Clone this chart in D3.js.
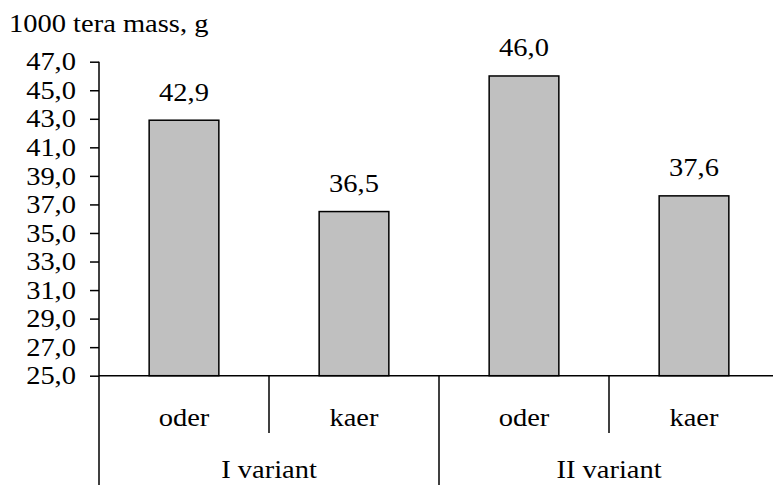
<!DOCTYPE html>
<html>
<head>
<meta charset="utf-8">
<script src="https://cdn.jsdelivr.net/npm/d3@7"></script>
<style>
  html, body { margin: 0; padding: 0; background: #fff; }
  svg { display: block; }
</style>
</head>
<body>
<svg id="chart" width="773" height="485"></svg>
<script>
// values
const groups = ["I variant", "II variant"];
const crops = ["oder", "kaer"];
const mass = [42.9, 36.5, 46.0, 37.6];
const yTicks = [25, 27, 29, 31, 33, 35, 37, 39, 41, 43, 45, 47];
const yTitle = "1000 tera mass, g";

const svg = d3.select("#chart");
const W = 773, H = 485;
const plotLeft = 99, plotRight = 779, plotTop = 61.7, plotBottom = 375.7;
const fontSize = 25;
const stretch = 1.14; // source text is a bit wider than plain Times

const fmt = v => d3.format(".1f")(v).replace(".", ",");

// flat list of bars: group x crop
const cats = [];
groups.forEach((g, gi) => crops.forEach((c, ci) => cats.push({ g, c, key: g + "|" + c, v: mass[gi * crops.length + ci] })));

const x = d3.scaleBand().domain(cats.map(d => d.key)).range([plotLeft, plotRight]).paddingInner(0.59).paddingOuter(0.295);
const xCat = d3.scaleBand().domain(cats.map(d => d.key)).range([plotLeft, plotRight]).padding(0);
const xGroup = d3.scaleBand().domain(groups).range([plotLeft, plotRight]).padding(0);
const y = d3.scaleLinear().domain([25, 47]).range([plotBottom, plotTop]);

function label(sel, tx, ty, str, anchor) {
  return sel.append("text")
    .attr("transform", `translate(${tx},${ty}) scale(${stretch},1)`)
    .attr("text-anchor", anchor || "middle")
    .attr("font-size", fontSize)
    .style("font-family", "'Liberation Serif'")
    .attr("fill", "#000")
    .text(str);
}

// y title
label(svg, 9, 31.5, yTitle, "start");

// y axis
const yAxis = d3.axisLeft(y).tickValues(yTicks).tickSize(9).tickFormat(fmt);
const gy = svg.append("g").attr("transform", `translate(${plotLeft},0)`).call(yAxis);
gy.select(".domain").remove();
gy.selectAll(".tick line").attr("stroke", "#000").attr("stroke-width", 1.5);
gy.selectAll(".tick text").remove();
yTicks.forEach(t => label(svg, 76, y(t) + 8.7, fmt(t), "end"));

// bars
svg.append("g").selectAll("rect").data(cats).join("rect")
  .attr("x", d => x(d.key))
  .attr("y", d => y(d.v))
  .attr("width", x.bandwidth())
  .attr("height", d => y(25) - y(d.v))
  .attr("fill", "#c0c0c0")
  .attr("stroke", "#000")
  .attr("stroke-width", 1.5);

// value labels
cats.forEach(d => label(svg, x(d.key) + x.bandwidth() / 2, y(d.v) - 19.5, fmt(d.v)));

// axes lines
const ax = svg.append("g").attr("stroke", "#000").attr("stroke-width", 1.5);
ax.append("line").attr("x1", plotLeft).attr("x2", plotLeft).attr("y1", plotTop).attr("y2", H);
ax.append("line").attr("x1", plotLeft).attr("x2", W).attr("y1", plotBottom).attr("y2", plotBottom);

// category separators (within group)
groups.forEach(g => {
  crops.slice(1).forEach(c => {
    const k = g + "|" + c;
    ax.append("line").attr("x1", xCat(k)).attr("x2", xCat(k)).attr("y1", plotBottom).attr("y2", 433);
  });
});
// group separators
groups.slice(1).forEach(g => {
  ax.append("line").attr("x1", xGroup(g)).attr("x2", xGroup(g)).attr("y1", plotBottom).attr("y2", H);
});

// category labels
cats.forEach(d => label(svg, xCat(d.key) + xCat.bandwidth() / 2, 426, d.c));
groups.forEach(g => label(svg, xGroup(g) + xGroup.bandwidth() / 2, 478, g));
</script>
</body>
</html>
